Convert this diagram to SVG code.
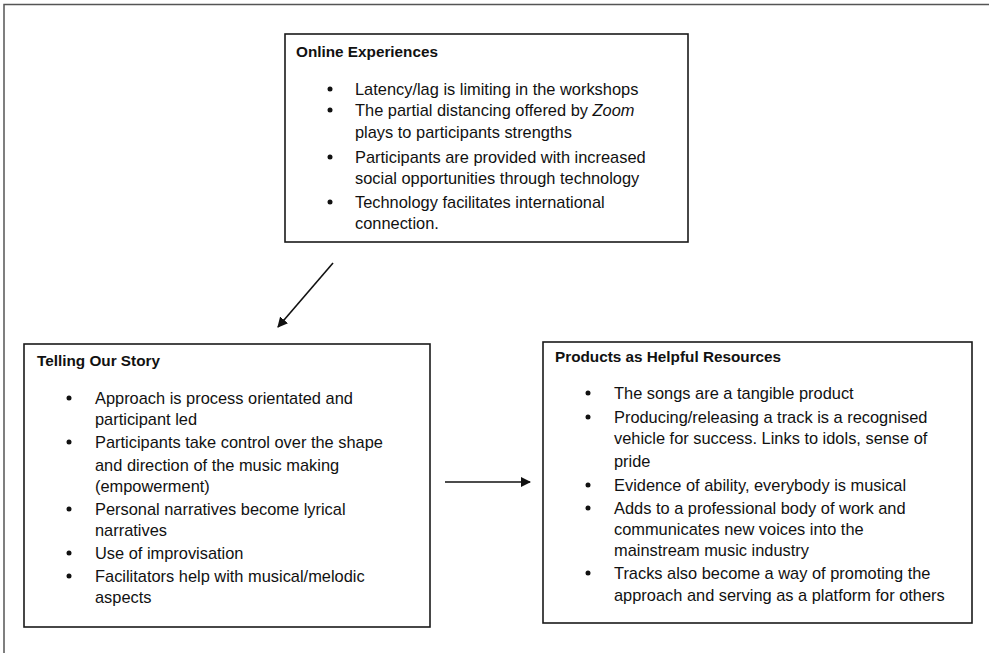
<svg xmlns="http://www.w3.org/2000/svg" width="989" height="653" viewBox="0 0 989 653">
<defs>
<style>
.box{fill:#fff;stroke:#1a1a1a;stroke-width:1.6}
.t{font-family:"Liberation Sans",Arial,sans-serif;font-size:16.4px;fill:#111}
.h{font-family:"Liberation Sans",Arial,sans-serif;font-size:15.3px;font-weight:bold;fill:#111}
.b{fill:#111}
.edge{stroke:#111;stroke-width:1.6;fill:none}
</style>
<marker id="ah" viewBox="0 0 10 10" refX="9" refY="5" markerWidth="6.5" markerHeight="6.5" orient="auto" markerUnits="strokeWidth">
<path d="M0,0 L10,5 L0,10 z" fill="#111"/>
</marker>
</defs>
<rect width="989" height="653" fill="#fff"/>
<g id="frame">
<path d="M4,653 V4.5 H989" fill="none" stroke="#555" stroke-width="1.5"/>
</g>
<g id="online-experiences">
<rect class="box" x="285" y="34" width="403" height="208"/>
<text class="h" x="296" y="57">Online Experiences</text>
<circle class="b" cx="330" cy="89" r="2.5"/>
<text class="t" x="355" y="95">Latency/lag is limiting in the workshops</text>
<circle class="b" cx="330" cy="110" r="2.5"/>
<text class="t" x="355" y="116">The partial distancing offered by <tspan font-style="italic">Zoom</tspan></text>
<text class="t" x="355" y="138">plays to participants strengths</text>
<circle class="b" cx="330" cy="157" r="2.5"/>
<text class="t" x="355" y="163">Participants are provided with increased</text>
<text class="t" x="355" y="184">social opportunities through technology</text>
<circle class="b" cx="330" cy="202" r="2.5"/>
<text class="t" x="355" y="208">Technology facilitates international</text>
<text class="t" x="355" y="229">connection.</text>
</g>
<g id="telling-our-story">
<rect class="box" x="24" y="344" width="406" height="283"/>
<text class="h" x="37" y="366">Telling Our Story</text>
<circle class="b" cx="69" cy="398" r="2.5"/>
<text class="t" x="95" y="404">Approach is process orientated and</text>
<text class="t" x="95" y="425">participant led</text>
<circle class="b" cx="69" cy="442" r="2.5"/>
<text class="t" x="95" y="448">Participants take control over the shape</text>
<text class="t" x="95" y="471">and direction of the music making</text>
<text class="t" x="95" y="492">(empowerment)</text>
<circle class="b" cx="69" cy="509" r="2.5"/>
<text class="t" x="95" y="515">Personal narratives become lyrical</text>
<text class="t" x="95" y="536">narratives</text>
<circle class="b" cx="69" cy="553" r="2.5"/>
<text class="t" x="95" y="559">Use of improvisation</text>
<circle class="b" cx="69" cy="576" r="2.5"/>
<text class="t" x="95" y="582">Facilitators help with musical/melodic</text>
<text class="t" x="95" y="603">aspects</text>
</g>
<g id="products">
<rect class="box" x="543" y="342" width="429" height="281"/>
<text class="h" x="555" y="362">Products as Helpful Resources</text>
<circle class="b" cx="588" cy="393" r="2.5"/>
<text class="t" x="614" y="399">The songs are a tangible product</text>
<circle class="b" cx="588" cy="417" r="2.5"/>
<text class="t" x="614" y="423">Producing/releasing a track is a recognised</text>
<text class="t" x="614" y="444">vehicle for success. Links to idols, sense of</text>
<text class="t" x="614" y="467">pride</text>
<circle class="b" cx="588" cy="485" r="2.5"/>
<text class="t" x="614" y="491">Evidence of ability, everybody is musical</text>
<circle class="b" cx="588" cy="508" r="2.5"/>
<text class="t" x="614" y="514">Adds to a professional body of work and</text>
<text class="t" x="614" y="535">communicates new voices into the</text>
<text class="t" x="614" y="556">mainstream music industry</text>
<circle class="b" cx="588" cy="573" r="2.5"/>
<text class="t" x="614" y="579">Tracks also become a way of promoting the</text>
<text class="t" x="614" y="601">approach and serving as a platform for others</text>
</g>
<g id="connectors">
<line class="edge" x1="333" y1="263" x2="278" y2="327" marker-end="url(#ah)"/>
<line class="edge" x1="445" y1="482" x2="530" y2="482" marker-end="url(#ah)"/>
</g>
</svg>
